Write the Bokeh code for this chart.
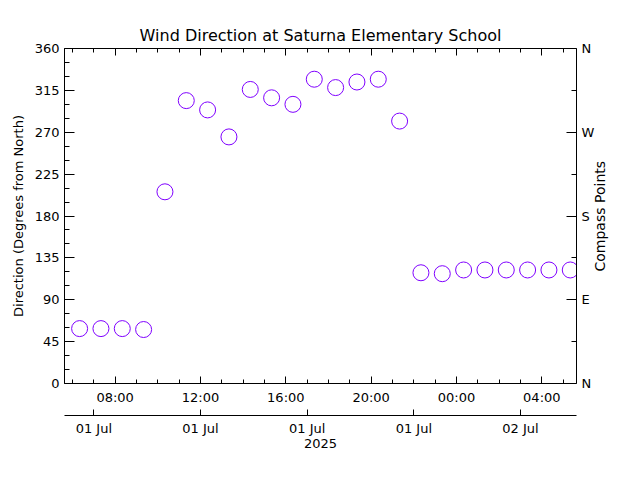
import math
import datetime as dt
from bokeh.plotting import figure
from bokeh.models import (Range1d, LinearAxis, DatetimeAxis, FixedTicker,
                          DatetimeTickFormatter)
from bokeh.embed import file_html
from bokeh.resources import INLINE

# ---------------- data ----------------
times = [
    "2025-07-01 06:20", "2025-07-01 07:20", "2025-07-01 08:20", "2025-07-01 09:20",
    "2025-07-01 10:20", "2025-07-01 11:20", "2025-07-01 12:20", "2025-07-01 13:20",
    "2025-07-01 14:20", "2025-07-01 15:20", "2025-07-01 16:20", "2025-07-01 17:20",
    "2025-07-01 18:20", "2025-07-01 19:20", "2025-07-01 20:20", "2025-07-01 21:20",
    "2025-07-01 22:20", "2025-07-01 23:20", "2025-07-02 00:20", "2025-07-02 01:20",
    "2025-07-02 02:20", "2025-07-02 03:20", "2025-07-02 04:20", "2025-07-02 05:20",
]
directions = [59, 59, 59, 58, 206, 304, 294, 265, 316, 307, 300, 327,
              318, 324, 327, 282, 119, 118, 122, 122, 122, 122, 122, 122]

x_start = "2025-07-01 05:37:30"
x_end = "2025-07-02 05:37:30"

deg_ticks = [0, 45, 90, 135, 180, 225, 270, 315, 360]
deg_minor = list(range(0, 361, 15))
compass_ticks = [0, 90, 180, 270, 360]
compass_minor = [45, 135, 225, 315]
compass_labels = ["N", "E", "S", "W", "N"]
grid_levels = [90, 180, 270]

hour_ticks = ["2025-07-01 08:00", "2025-07-01 12:00", "2025-07-01 16:00",
              "2025-07-01 20:00", "2025-07-02 00:00", "2025-07-02 04:00"]
hour_minor = ["2025-07-01 %02d:00" % h for h in range(6, 24)] + \
             ["2025-07-02 %02d:00" % h for h in range(0, 6)]
date_ticks = ["2025-07-01 07:00", "2025-07-01 12:00", "2025-07-01 17:00",
              "2025-07-01 22:00", "2025-07-02 03:00"]
year_label = "2025"

title_text = "Wind Direction at Saturna Elementary School"
y_label = "Direction (Degrees from North)"
y2_label = "Compass Points"

FONT = "DejaVu Sans"
COLOR = "#7F00FF"
FRAME_H = 335          # px height of the plot frame
Y2_LABEL_LEN = 111     # approx. px length of the right-hand title at 14px

EPOCH = dt.datetime(1970, 1, 1)


def ms(s):
    return (dt.datetime.fromisoformat(s) - EPOCH).total_seconds() * 1000.0


xs = [ms(t) for t in times]
x0, x1 = ms(x_start), ms(x_end)

p = figure(width=640, height=480,
           x_range=Range1d(x0, x1), y_range=Range1d(0, 360),
           x_axis_type=None, y_axis_type=None,
           toolbar_location=None, output_backend="svg",
           min_border_left=64, min_border_right=64,
           min_border_top=48, min_border_bottom=97)
p.outline_line_color = None
p.background_fill_color = "white"
p.border_fill_color = "white"

p.title.text = title_text
p.title.align = "center"
p.title.text_font = FONT
p.title.text_font_size = "16px"
p.title.text_font_style = "normal"
p.title.text_color = "black"
p.title.standoff = 7


def style_axis(ax, maj_in, min_in):
    ax.major_tick_in = maj_in
    ax.major_tick_out = 0
    ax.minor_tick_in = min_in
    ax.minor_tick_out = 0
    ax.axis_line_color = "black"
    ax.major_tick_line_color = "black"
    ax.minor_tick_line_color = "black"
    ax.major_label_text_font = FONT
    ax.major_label_text_font_size = "13px"
    ax.major_label_text_color = "black"
    ax.axis_label_text_font = FONT
    ax.axis_label_text_font_size = "13px"
    ax.axis_label_text_font_style = "normal"
    ax.axis_label_text_color = "black"


# left axis
ly = LinearAxis(ticker=FixedTicker(ticks=deg_ticks, minor_ticks=deg_minor),
                axis_label=y_label)
style_axis(ly, 10, 5)
ly.major_label_standoff = 5
ly.axis_label_standoff = 6
p.add_layout(ly, "left")

# right axis (compass points)
ry = LinearAxis(ticker=FixedTicker(ticks=compass_ticks, minor_ticks=compass_minor),
                major_label_overrides={t: l for t, l in zip(compass_ticks, compass_labels)})
style_axis(ry, 10, 5)
ry.major_label_standoff = 5
ry.major_label_orientation = "horizontal"
p.add_layout(ry, "right")

# right-hand title reading bottom-to-top: a bare axis carrying one rotated label
anchor = 180 - (Y2_LABEL_LEN / 2) * 360 / FRAME_H
ry2 = LinearAxis(ticker=FixedTicker(ticks=[anchor], minor_ticks=[]),
                 major_label_overrides={anchor: y2_label})
style_axis(ry2, 0, 0)
ry2.axis_line_color = None
ry2.major_tick_line_color = None
ry2.minor_tick_line_color = None
ry2.major_label_text_font_size = "14px"
ry2.major_label_standoff = 2
ry2.major_label_orientation = math.pi / 2
p.add_layout(ry2, "right")

hm = "%H:%M"
fmt_hours = DatetimeTickFormatter(microseconds=hm, milliseconds=hm, seconds=hm,
                                  minsec=hm, minutes=hm, hourmin=hm, hours=hm,
                                  days=hm, months=hm, years=hm,
                                  strip_leading_zeros=False)
dm = "%d %b"
fmt_days = DatetimeTickFormatter(microseconds=dm, milliseconds=dm, seconds=dm,
                                 minsec=dm, minutes=dm, hourmin=dm, hours=dm,
                                 days=dm, months=dm, years=dm,
                                 strip_leading_zeros=False)

# bottom hour axis
bx = DatetimeAxis(ticker=FixedTicker(ticks=[ms(t) for t in hour_ticks],
                                     minor_ticks=[ms(t) for t in hour_minor]),
                  formatter=fmt_hours)
style_axis(bx, 7, 4)
bx.major_label_standoff = 6
bx.axis_label = " "
bx.axis_label_text_font_size = "4px"
bx.axis_label_standoff = 0
p.add_layout(bx, "below")

# top axis (ticks only, no labels)
tx = DatetimeAxis(ticker=FixedTicker(ticks=[ms(t) for t in hour_ticks],
                                     minor_ticks=[ms(t) for t in hour_minor]),
                  formatter=fmt_hours,
                  major_label_overrides={ms(t): "" for t in hour_ticks})
style_axis(tx, 7, 4)
tx.major_label_standoff = 0
p.add_layout(tx, "above")

# second (date) axis
dx = DatetimeAxis(ticker=FixedTicker(ticks=[ms(t) for t in date_ticks], minor_ticks=[]),
                  formatter=fmt_days, axis_label=year_label)
style_axis(dx, 6, 0)
dx.major_label_standoff = 5
dx.axis_label_standoff = 0
p.add_layout(dx, "below")

# grid
p.ygrid.ticker = FixedTicker(ticks=grid_levels)
p.ygrid.grid_line_color = "black"
p.ygrid.grid_line_dash = "1 3"
p.ygrid.grid_line_width = 1
p.xgrid.grid_line_color = None

p.scatter(x=xs, y=directions, size=16, marker="circle",
          fill_color=None, line_color=COLOR, line_width=1)

open("out.html", "w").write(file_html(p, INLINE))
